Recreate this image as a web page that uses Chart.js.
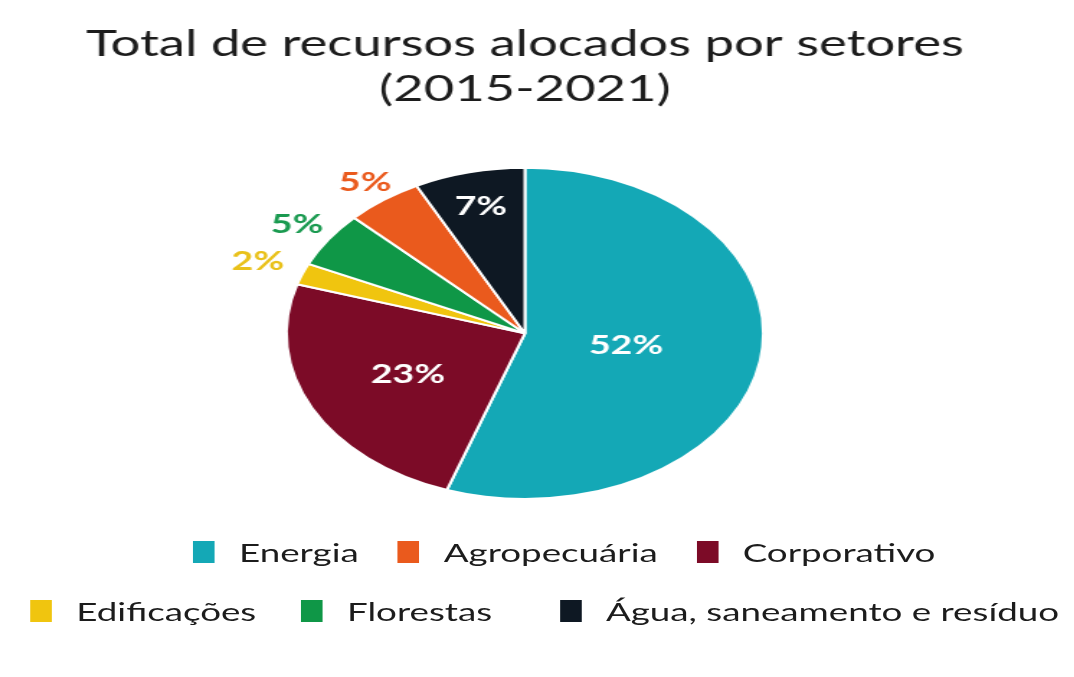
<!DOCTYPE html>
<html>
<head>
<meta charset="utf-8">
<script src="https://cdn.jsdelivr.net/npm/chart.js@4.4.1/dist/chart.umd.min.js"></script>
<style>
html,body{margin:0;padding:0;background:#fff;overflow:hidden;width:1074px;height:677px}
#stage{position:absolute;left:0;top:0;width:746px;height:677px;transform:scaleX(1.44);transform-origin:0 0}
#wrap{position:absolute;left:0;top:0;width:746px;height:677px}
.legrow{position:absolute;left:0;width:746px;height:30px;display:flex;justify-content:flex-start;align-items:center;font-family:Lato,sans-serif;font-size:25.5px;color:#1c1c1c;white-space:nowrap;box-sizing:border-box}
.item{display:flex;align-items:center}
.box{width:15px;height:22px;margin-right:17px;flex:none}
#row2 .item:last-child{margin-left:16px}
</style>
</head>
<body>
<div id="stage">
  <div id="wrap"><canvas id="c"></canvas></div>
  <div class="legrow" id="row1" style="top:537px;padding-left:134px;gap:27px"></div>
  <div class="legrow" id="row2" style="top:596px;padding-left:21px;gap:31px"></div>
</div>
<script>
// ---- data ----
const categories = ['Energia', 'Corporativo', 'Edificações', 'Florestas', 'Agropecuária', 'Água, saneamento e resíduo'];
const values = [55.3, 24.5, 2.1, 5.4, 5.2, 7.5];
const pctLabels = ['52%', '23%', '2%', '5%', '5%', '7%'];
const colors = ['#14a8b6', '#7c0b27', '#f0c50f', '#0f9747', '#ea5a1d', '#0e1823'];
const legendRow1 = ['Energia', 'Agropecuária', 'Corporativo'];
const legendRow2 = ['Edificações', 'Florestas', 'Água, saneamento e resíduo'];
const titleLines = ['Total de recursos alocados por setores', '(2015-2021)'];

// label placement (fraction of radius) and colour
const labelStyle = {
  radius: [0.43, 0.55, 1.2, 1.16, 1.13, 0.79],
  color: ['#ffffff', '#ffffff', '#e9c11a', '#1a9a50', '#ea5a1d', '#ffffff']
};

const pctPlugin = {
  id: 'pctLabels',
  afterDatasetsDraw(chart) {
    const ctx = chart.ctx;
    const meta = chart.getDatasetMeta(0);
    ctx.save();
    ctx.font = '700 26px Lato, sans-serif';
    ctx.textAlign = 'center';
    ctx.textBaseline = 'middle';
    meta.data.forEach((arc, i) => {
      const p = arc.getProps(['x', 'y', 'startAngle', 'endAngle', 'outerRadius'], true);
      const mid = (p.startAngle + p.endAngle) / 2;
      const r = p.outerRadius * labelStyle.radius[i];
      ctx.fillStyle = labelStyle.color[i];
      ctx.fillText(pctLabels[i], p.x + Math.cos(mid) * r, p.y + Math.sin(mid) * r);
    });
    ctx.restore();
  }
};

new Chart(document.getElementById('c'), {
  type: 'pie',
  data: {
    labels: categories,
    datasets: [{
      data: values,
      backgroundColor: colors,
      borderColor: '#ffffff',
      borderWidth: 2
    }]
  },
  options: {
    responsive: true,
    maintainAspectRatio: false,
    animation: false,
    layout: { padding: { top: 0, bottom: 177, left: 0, right: 17 } },
    plugins: {
      legend: { display: false },
      tooltip: { enabled: false },
      title: {
        display: true,
        text: titleLines,
        color: '#1c1c1c',
        font: { family: 'Lato, sans-serif', size: 36.5, weight: 'normal', lineHeight: 1.23 },
        padding: { top: 22, bottom: 55 }
      }
    }
  },
  plugins: [pctPlugin]
});

// HTML legend built from the same arrays
function buildRow(el, names) {
  names.forEach(n => {
    const i = categories.indexOf(n);
    const it = document.createElement('div');
    it.className = 'item';
    const b = document.createElement('div');
    b.className = 'box';
    b.style.background = colors[i];
    const t = document.createElement('span');
    t.textContent = n;
    it.appendChild(b); it.appendChild(t);
    el.appendChild(it);
  });
}
buildRow(document.getElementById('row1'), legendRow1);
buildRow(document.getElementById('row2'), legendRow2);
</script>
</body>
</html>
